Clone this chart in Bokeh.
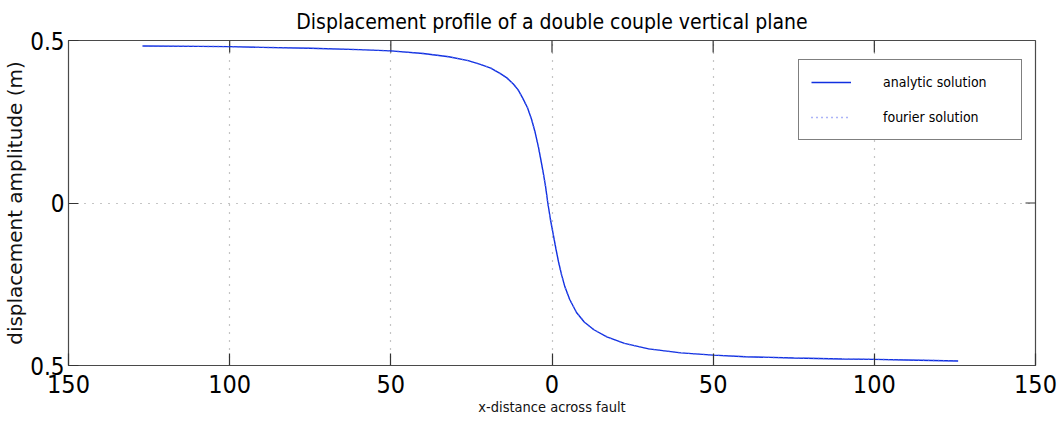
from bokeh.plotting import figure
from bokeh.models import (FixedTicker, LinearAxis, Legend, LegendItem,
                          CustomJSTickFormatter, Range1d, Grid)
from bokeh.embed import file_html
from bokeh.resources import INLINE

# ---- data ----
x_dist = [-127, -110, -100, -90, -75, -60, -50, -40, -32, -26, -22, -19, -16,
          -14, -12, -10.5, -9, -7.6, -6.3, -5.2, -4.2, -3.4, -2.7, -2, -1.3,
          -0.5, 0.4, 1.2, 2, 3, 4, 5.5, 7.6, 10, 13, 17, 22.5, 30, 40, 50,
          60, 75, 90, 100, 110, 126]
analytic = [0.483, 0.482, 0.481, 0.479, 0.476, 0.472, 0.468, 0.460, 0.450,
            0.438, 0.426, 0.415, 0.398, 0.385, 0.366, 0.348, 0.321, 0.293,
            0.256, 0.216, 0.172, 0.130, 0.092, 0.051, 0.0, -0.050, -0.097,
            -0.140, -0.180, -0.222, -0.258, -0.297, -0.337, -0.366, -0.390,
            -0.412, -0.432, -0.449, -0.461, -0.468, -0.473, -0.477, -0.480,
            -0.481, -0.483, -0.486]
fourier = [0.483, 0.482, 0.481, 0.479, 0.476, 0.472, 0.468, 0.460, 0.450,
           0.438, 0.426, 0.415, 0.398, 0.385, 0.366, 0.348, 0.321, 0.293,
           0.256, 0.216, 0.172, 0.130, 0.092, 0.051, 0.0, -0.050, -0.097,
           -0.140, -0.180, -0.222, -0.258, -0.297, -0.337, -0.366, -0.390,
           -0.412, -0.432, -0.449, -0.461, -0.468, -0.473, -0.477, -0.480,
           -0.481, -0.483, -0.486]
x_ticks = [-150, -100, -50, 0, 50, 100, 150]
y_ticks = [-0.5, 0, 0.5]
x_grid = [-100, -50, 0, 50, 100]
y_grid = [0]

NARROW = "'DejaVu Sans Condensed', 'Liberation Sans Narrow', sans-serif"
WIDE = "'DejaVu Sans', sans-serif"

X0, X1, Y0, Y1 = -150, 150, -0.5, 0.5
FRAME_W, FRAME_H = 968, 325

p = figure(width=1060, height=427, output_backend="svg", toolbar_location=None,
           x_range=Range1d(X0, X1), y_range=Range1d(Y0, Y1),
           min_border_left=67, min_border_right=25, min_border_top=40,
           min_border_bottom=62, x_axis_type=None, y_axis_type=None)
p.background_fill_color = "white"
p.border_fill_color = "white"
p.outline_line_color = "#4a4a4a"
p.outline_line_width = 1.2

p.title.text = "Displacement profile of a double couple vertical plane"
p.title.align = "center"
p.title.text_font = NARROW
p.title.text_font_size = "21px"
p.title.text_font_style = "normal"
p.title.text_color = "black"
p.title.standoff = 13

absfmt = CustomJSTickFormatter(code="return Math.abs(tick).toString()")

def style_axis(ax, ticks, size):
    ax.ticker = FixedTicker(ticks=ticks)
    ax.axis_line_color = None
    ax.major_tick_in = 12
    ax.major_tick_out = 0
    ax.minor_tick_in = 0
    ax.minor_tick_out = 0
    ax.major_tick_line_color = "#333333"
    ax.major_tick_line_width = 1.2
    ax.formatter = absfmt
    ax.major_label_text_font = NARROW
    ax.major_label_text_font_size = size
    ax.major_label_text_color = "black"

xb = LinearAxis()
style_axis(xb, x_ticks, "25px")
xb.major_label_standoff = 9
xb.axis_label = "x-distance across fault"
xb.axis_label_text_font = NARROW
xb.axis_label_text_font_size = "14.5px"
xb.axis_label_text_font_style = "normal"
xb.axis_label_text_color = "#111111"
xb.axis_label_standoff = 3
p.add_layout(xb, "below")

yl = LinearAxis()
style_axis(yl, y_ticks, "24px")
yl.major_tick_in = 10
yl.major_label_standoff = 4
yl.axis_label = "displacement amplitude (m)"
yl.axis_label_text_font = WIDE
yl.axis_label_text_font_size = "20px"
yl.axis_label_text_font_style = "normal"
yl.axis_label_text_color = "#111111"
yl.axis_label_standoff = 0
p.add_layout(yl, "left")

# inner tick marks on the top and right edges of the box
tick_dy = 12 / FRAME_H * (Y1 - Y0)
tick_dx = 10 / FRAME_W * (X1 - X0)
inner_x = x_ticks[1:-1]
p.segment(x0=inner_x, y0=[Y1] * len(inner_x), x1=inner_x,
          y1=[Y1 - tick_dy] * len(inner_x), line_color="#333333", line_width=1.2)
inner_y = y_ticks[1:-1]
p.segment(x0=[X1] * len(inner_y), y0=inner_y, x1=[X1 - tick_dx] * len(inner_y),
          y1=inner_y, line_color="#333333", line_width=1.2)

gx = Grid(dimension=0, ticker=FixedTicker(ticks=x_grid),
          grid_line_color="#8a8a8a", grid_line_dash="1 7", grid_line_width=1.2)
gy = Grid(dimension=1, ticker=FixedTicker(ticks=y_grid),
          grid_line_color="#8a8a8a", grid_line_dash="1 7", grid_line_width=1.2)
p.add_layout(gx)
p.add_layout(gy)

r1 = p.line(x_dist, analytic, line_color="#1030e0", line_width=1.4)
r2 = p.line(x_dist, fourier, line_color="#5a6cf0", line_width=1.4,
            line_dash="1 4")

leg = Legend(items=[LegendItem(label="analytic solution", renderers=[r1]),
                    LegendItem(label="fourier solution", renderers=[r2])],
             location=(730, 225))
leg.border_line_color = "black"
leg.border_line_width = 1
leg.background_fill_color = "white"
leg.background_fill_alpha = 1
leg.padding = 12
leg.spacing = 15
leg.glyph_width = 40
leg.glyph_height = 20
leg.label_standoff = 32
leg.label_width = 126
leg.label_text_font = NARROW
leg.label_text_font_size = "14px"
leg.label_text_color = "black"
leg.margin = 0
p.add_layout(leg, "center")

open("out.html", "w").write(file_html(p, INLINE))
